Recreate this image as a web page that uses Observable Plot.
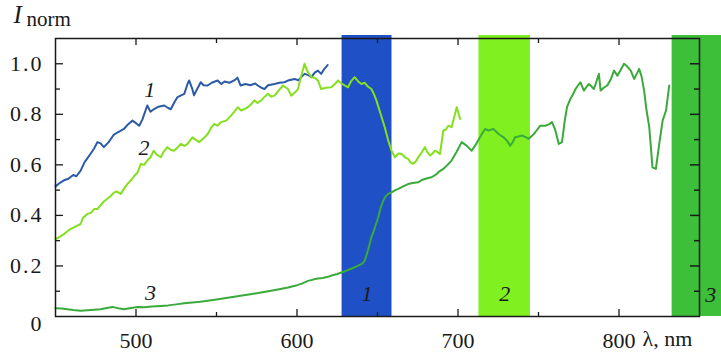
<!DOCTYPE html>
<html><head><meta charset="utf-8">
<script src="https://cdn.jsdelivr.net/npm/d3@7"></script>
<script src="https://cdn.jsdelivr.net/npm/@observablehq/plot@0.6"></script>
<style>
body{margin:0;background:#fff;font-family:'Liberation Serif','DejaVu Serif',serif}
#chart svg, #chart svg text, #chart svg g{font-family:'Liberation Serif','DejaVu Serif',serif !important}
g[aria-label="y-axis tick label"] text{letter-spacing:2px}
g[aria-label="xtitle"] text{letter-spacing:1.5px}
</style>
</head><body><div id="chart"></div>
<script>
// Series 1 (blue)
const wl1 = [450,453,455,458,461,463,465.6,468,471.8,474,476,478,480,483,486.3,489,492.5,495,497.8,500,502,504,507,509,511,514,517.5,520,521.6,524,525.8,528,530,532,533,535,536,538,540.2,542,544.5,547,550.7,553,555,558,561,563,565,568,571,574,575.6,578,579.8,582,586,589,592.2,595,598.5,601,603,604.7,607,608.9,611,613,615,617,619];
const v1 = [0.515,0.53,0.538,0.545,0.56,0.555,0.577,0.61,0.644,0.665,0.69,0.685,0.67,0.69,0.72,0.73,0.742,0.76,0.775,0.765,0.755,0.78,0.835,0.81,0.82,0.83,0.835,0.825,0.82,0.85,0.868,0.875,0.881,0.92,0.934,0.9,0.875,0.9,0.927,0.915,0.914,0.925,0.934,0.92,0.93,0.925,0.934,0.945,0.914,0.92,0.915,0.922,0.914,0.905,0.9,0.915,0.92,0.925,0.927,0.935,0.94,0.935,0.95,0.96,0.955,0.947,0.965,0.973,0.96,0.98,0.995];
// Series 2 (light green)
const wl2 = [450,452,455,457,459.3,462,465.6,467,469.7,472,474,476,478,480,482,484,486.3,488,490.5,492.5,494.6,497,499,501,503,505,507,509,511,513,515.4,517,519.5,521.5,523.6,526,527.9,530,532,535,537,539.3,542,544.5,546.5,548.6,550.5,552.8,556,559,561,563.2,565.3,567,569.4,571.5,573.6,575.5,577.7,580,581.9,584,586,588,591.3,594.4,596.4,598.5,600.6,602.5,604.7,606.5,608.9,611,613,615,618,621.3,623.5,625.5,628,631.7,633.5,635.8,638,640,642,644,646.2,647.8,649.3,652,654.5,656.5,658.7,660.8,663,665,667,669,670.5,672.2,674,675.3,677.5,679.4,681,682.6,684.2,685.7,687.3,688.8,690.9,692.5,694,696,697.7,699.2,700.5,701.3];
const v2 = [0.305,0.313,0.325,0.335,0.346,0.355,0.366,0.39,0.406,0.41,0.425,0.425,0.44,0.455,0.465,0.475,0.49,0.495,0.485,0.505,0.524,0.54,0.557,0.57,0.604,0.6,0.617,0.63,0.656,0.64,0.63,0.65,0.67,0.66,0.656,0.67,0.683,0.675,0.683,0.709,0.7,0.69,0.705,0.722,0.745,0.762,0.755,0.769,0.775,0.795,0.81,0.828,0.815,0.82,0.828,0.84,0.855,0.845,0.855,0.87,0.881,0.87,0.874,0.89,0.914,0.9,0.874,0.885,0.9,0.95,1.0,0.97,0.947,0.945,0.934,0.9,0.905,0.907,0.92,0.934,0.92,0.907,0.93,0.947,0.93,0.92,0.925,0.91,0.9,0.88,0.855,0.8,0.749,0.7,0.656,0.63,0.645,0.643,0.63,0.624,0.61,0.604,0.615,0.63,0.65,0.67,0.65,0.637,0.645,0.656,0.65,0.643,0.736,0.74,0.755,0.749,0.79,0.828,0.8,0.782];
// Series 3 (green)
const wl3 = [450,454,457.3,461,465.6,470,474,478,482,485.3,489,492.6,497,501,505,510,515.4,520,525,530,535,540,544.5,550,555,561,566,572,577.7,583,589,594.4,600,603,606.8,610,613,616,619.3,622,625,627.6,631,634,637,640,642,644,646.2,648.3,650.4,652,653.5,655,656.6,659,661,662.9,666,669,672,675.3,677.5,679.4,681.5,683.6,686,688,690.9,693.5,696,699,702.3,705.5,708.5,711,713.6,716.8,718.9,722,725.2,728.3,730.5,732.4,734,735.5,737.5,739.7,742,743.9,746,748,751.1,754.2,756.5,758.4,760.5,762.6,764.6,766.2,767.7,769.8,771.5,773,776,778.2,780,781.3,783,784.4,786,787.5,788.6,790.5,792.7,795,796.9,799,801,803.1,805,807.3,809.4,811,812.5,814,815.6,817,818.8,820.8,822.9,825,827.1,829.2,831.2];
const v3 = [0.033,0.032,0.029,0.026,0.023,0.025,0.027,0.029,0.034,0.038,0.033,0.029,0.034,0.038,0.037,0.04,0.042,0.044,0.048,0.052,0.055,0.058,0.062,0.067,0.072,0.078,0.083,0.089,0.095,0.101,0.108,0.115,0.124,0.13,0.141,0.146,0.15,0.152,0.157,0.163,0.168,0.174,0.182,0.19,0.198,0.207,0.22,0.26,0.313,0.35,0.392,0.43,0.458,0.475,0.485,0.492,0.5,0.505,0.515,0.524,0.528,0.531,0.54,0.544,0.548,0.551,0.56,0.572,0.584,0.6,0.617,0.65,0.69,0.675,0.656,0.68,0.709,0.742,0.736,0.742,0.722,0.709,0.695,0.676,0.69,0.709,0.712,0.716,0.71,0.703,0.715,0.729,0.755,0.755,0.76,0.769,0.736,0.683,0.69,0.77,0.828,0.861,0.88,0.9,0.927,0.894,0.91,0.92,0.91,0.9,0.93,0.96,0.894,0.905,0.914,0.94,0.973,0.953,0.975,1.0,0.99,0.973,0.94,0.96,0.98,0.95,0.894,0.82,0.749,0.59,0.584,0.683,0.775,0.815,0.914];

const seriesColors = ["#2c5aa6", "#84e01e", "#3aaa3a"];
const curveLabels = ["1", "2", "3"];
const curveLabelX = [508.5, 505, 509];
const curveLabelY = [0.895, 0.665, 0.095];

const bandLabels = ["1", "2", "3"];
const bandFrom = [628, 713, 833];
const bandTo = [659, 745, 866];
const bandColors = ["#1f50c6", "#80f020", "#3dbf3a"];
const bandLabelY = [0.09, 0.09, 0.085];

const xMajor = [500, 600, 700, 800];
const xMinor = [550, 650, 750];
const yLabelTicks = [0.2, 0.4, 0.6, 0.8, 1.0];
const yZeroTick = [0];
const yMinor = [0.1, 0.3, 0.5, 0.7, 0.9];
const xDomain = [450, 850];
const yDomain = [0, 1.1];
const titleMain = "I";
const titleSub = "norm";
const xTitle = "λ, nm";

const serif = "'Liberation Serif', 'DejaVu Serif', serif";
const mk = (wl, v) => wl.map((x, i) => ({x, y: v[i]}));
const s1 = mk(wl1, v1), s2 = mk(wl2, v2), s3 = mk(wl3, v3);
const bands = bandLabels.map((n, i) => ({n, x1: bandFrom[i], x2: bandTo[i], c: bandColors[i], lx: (bandFrom[i] + bandTo[i]) / 2, ly: bandLabelY[i]}));
bands[2].lx = 857;
const clabels = curveLabels.map((t, i) => ({t, x: curveLabelX[i], y: curveLabelY[i]}));

const ink = "#1a1a1a";
const chart = Plot.plot({
  width: 721, height: 354,
  marginTop: 38, marginBottom: 38, marginLeft: 55, marginRight: 22,
  style: `font-family: ${serif}; font-size: 22px; background: #fff; color: ${ink};`,
  x: {domain: xDomain, label: null},
  y: {domain: yDomain, label: null},
  color: {type: "identity"},
  marks: [
    Plot.rect(bands, {x1: "x1", x2: "x2", y1: () => yDomain[0], y2: () => yDomain[1], fill: "c", insetTop: -3}),
    Plot.line(s1, {x: "x", y: "y", stroke: seriesColors[0], strokeWidth: 2}),
    Plot.line(s2, {x: "x", y: "y", stroke: seriesColors[1], strokeWidth: 2}),
    Plot.line(s3, {x: "x", y: "y", stroke: seriesColors[2], strokeWidth: 2}),
    // inward ticks
    Plot.axisX({anchor: "bottom", ticks: xMajor, tickSize: -7, tickFormat: () => "", stroke: ink, strokeWidth: 1.3}),
    Plot.axisX({anchor: "bottom", ticks: xMinor, tickSize: -4, tickFormat: () => "", stroke: ink, strokeWidth: 1.3}),
    Plot.axisX({anchor: "top", ticks: xMajor, tickSize: -6, tickFormat: () => "", stroke: ink, strokeWidth: 1.3}),
    Plot.axisX({anchor: "top", ticks: xMinor, tickSize: -4, tickFormat: () => "", stroke: ink, strokeWidth: 1.3}),
    Plot.axisY({anchor: "left", ticks: yLabelTicks, tickSize: -8, tickFormat: () => "", stroke: ink, strokeWidth: 1.3}),
    Plot.axisY({anchor: "left", ticks: yMinor, tickSize: -5, tickFormat: () => "", stroke: ink, strokeWidth: 1.3}),
    Plot.axisY({anchor: "right", ticks: yLabelTicks, tickSize: -10, tickFormat: () => "", stroke: ink, strokeWidth: 1.5}),
    Plot.axisY({anchor: "right", ticks: yMinor, tickSize: -6, tickFormat: () => "", stroke: ink, strokeWidth: 1.5}),
    // labels
    Plot.axisX({anchor: "bottom", ticks: xMajor, tickSize: 0, tickPadding: 16, tickFormat: d => String(d), fill: ink, fontFamily: serif}),
    Plot.axisY({anchor: "left", ticks: yLabelTicks, tickSize: 0, tickPadding: 12, tickFormat: d => d.toFixed(1), fill: ink, fontFamily: serif}),
    Plot.axisY({anchor: "left", ticks: yZeroTick, tickSize: 0, tickPadding: 12, dy: 7, tickFormat: d => String(d), fill: ink, fontFamily: serif}),
    Plot.frame({stroke: ink, strokeWidth: 1.5}),
    Plot.text(clabels, {x: "x", y: "y", text: "t", fontStyle: "italic", fontSize: 22, fill: ink, fontFamily: serif}),
    Plot.text(bands, {x: "lx", y: "ly", text: "n", fontStyle: "italic", fontSize: 22, fill: ink, fontFamily: serif}),
    Plot.text([titleMain], {frameAnchor: "top-left", text: d => d, fontStyle: "italic", fontSize: 25, textAnchor: "start", lineAnchor: "bottom", dx: -42, dy: -16, fill: ink, fontFamily: serif}),
    Plot.text([titleSub], {frameAnchor: "top-left", text: d => d, fontSize: 21, textAnchor: "start", lineAnchor: "bottom", dx: -29, dy: -13, fill: ink, fontFamily: serif}),
    Plot.text([xTitle], {ariaLabel: "xtitle", frameAnchor: "bottom-right", text: d => d, fontSize: 22, textAnchor: "start", lineAnchor: "bottom", dx: -57, dy: 29, fill: ink, fontFamily: serif})
  ]
});
document.getElementById("chart").appendChild(chart);
</script>
</body></html>
